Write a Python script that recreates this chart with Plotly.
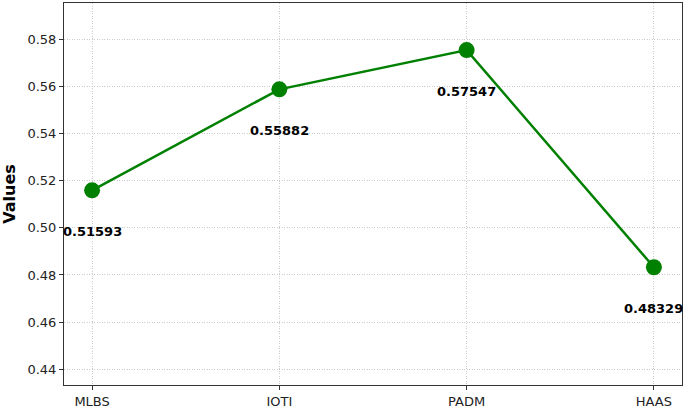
import plotly.graph_objects as go

models = ["MLBS", "IOTI", "PADM", "HAAS"]
values = [0.51593, 0.55882, 0.57547, 0.48329]

fig = go.Figure()
fig.add_trace(go.Scatter(
    x=list(range(len(models))), y=values,
    mode="lines+markers",
    line=dict(color="green", width=2.5),
    marker=dict(color="green", size=16),
    showlegend=False, hoverinfo="skip",
))

# value labels below each point
for i, v in enumerate(values):
    fig.add_annotation(
        x=i, y=v - 0.0135, text="<b>%.5f</b>" % v,
        showarrow=False, yanchor="top", xanchor="center",
        font=dict(family="DejaVu Sans", size=13, color="black"),
    )

axis_common = dict(
    showline=True, mirror=True, linecolor="#333", linewidth=1,
    ticks="outside", ticklen=4, tickcolor="#333",
    showgrid=True, gridcolor="#cccccc", griddash="1px,1.5px", gridwidth=1,
    zeroline=False, automargin=False,
    tickfont=dict(family="DejaVu Sans", size=13, color="#222"),
)

fig.update_xaxes(
    tickmode="array", tickvals=list(range(len(models))), ticktext=models,
    range=[-0.15, 3.15], **axis_common,
)
fig.update_yaxes(
    range=[min(values) - 0.05, max(values) + 0.02],
    tickmode="array", tickvals=[0.44, 0.46, 0.48, 0.50, 0.52, 0.54, 0.56, 0.58],
    tickformat=".2f",
    title=dict(text="<b>Values</b>", font=dict(family="DejaVu Sans", size=16, color="black"), standoff=7),
    **axis_common,
)

fig.update_layout(
    width=685, height=408,
    margin=dict(l=64, r=3, t=3, b=23),
    plot_bgcolor="white", paper_bgcolor="white",
    font=dict(family="DejaVu Sans"),
)

# page body has a default 8px margin that pushes the plot off the window
fig.write_html("out.html", config={"displayModeBar": False},
               post_script="document.body.style.margin='0';document.body.style.overflow='hidden';")
